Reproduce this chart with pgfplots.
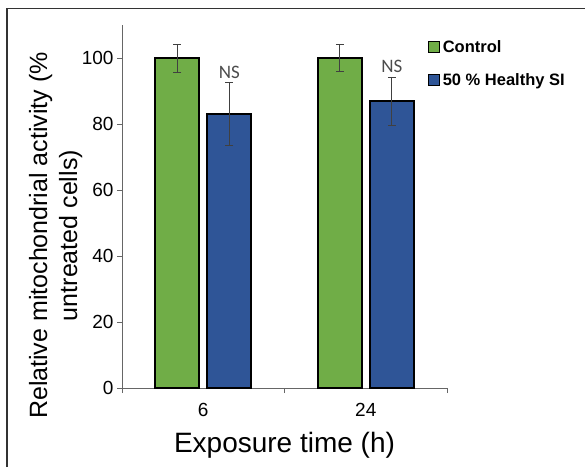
\documentclass[border=0pt]{standalone}
\usepackage{pgfplots}
\pgfplotsset{compat=1.18}
\usepackage{fontspec}
\setmainfont{Liberation Sans}
\newfontfamily\calibri{Carlito}
\definecolor{ctrlgreen}{RGB}{112,173,71}
\definecolor{siblue}{RGB}{47,85,151}
\begin{document}
\begin{tikzpicture}[x=1pt,y=1pt]
\useasboundingbox (0,0) rectangle (585,467);
\begin{axis}[
  at={(122pt,79pt)}, anchor=south west,
  scale only axis, width=325pt, height=363pt,
  ybar=8pt, bar width=44pt,
  xmin=-0.5, xmax=1.5, ymin=0, ymax=110,
  axis x line=bottom, axis y line=left,
  axis line style={-, black!60, line width=0.8pt},
  tick style={black!60, line width=0.8pt},
  tick align=outside, major tick length=5pt,
  xtick={-0.5,0.5,1.5}, xticklabels={},
  extra x ticks={0,1}, extra x tick labels={6,24},
  extra x tick style={major tick length=0pt,
    xticklabel style={yshift=-12pt}},
  ytick={0,20,...,100},
  /pgf/number format/assume math mode=true,
  tick label style={font=\fontsize{19}{22}\selectfont},
  xlabel={Exposure time (h)},
  ylabel={Relative mitochondrial activity (\%\\untreated cells)},
  xlabel style={at={(axis description cs:0.5,-0.158)}, anchor=center,
    font=\fontsize{28}{32}\selectfont},
  ylabel style={at={(axis description cs:-0.204,0.42)}, anchor=center,
    align=center, font=\fontsize{25}{30}\selectfont},
  legend style={at={(axis description cs:0.94,0.96)}, anchor=north west,
    draw=none, fill=none, inner sep=0pt, row sep=17pt, column sep=2pt,
    font=\fontsize{16.5}{19}\selectfont\bfseries,
    nodes={inner sep=1pt}},
  legend cell align=left,
  legend image code/.code={\draw[#1, line width=1.1pt] (0pt,-5.5pt) rectangle (11pt,5.5pt);},
  error bars/y dir=both, error bars/y explicit,
  error bars/error bar style={line width=0.6pt, black!75},
  error bars/error mark options={rotate=90, mark size=4pt, line width=0.6pt, black!75},
]
\addplot[fill=ctrlgreen, draw=black, line width=1.8pt]
  coordinates {(0,100) +- (0,4.2) (1,100) +- (0,4.1)};
\addplot[fill=siblue, draw=black, line width=1.8pt]
  coordinates {(0,83) +- (0,9.6) (1,87) +- (0,7.3)};
\legend{Control, 50 \% Healthy SI}
\node[font=\calibri\fontsize{19}{21}\selectfont, text=black!70]
  at ([xshift=26pt]axis cs:0,95.6) {NS};
\node[font=\calibri\fontsize{19}{21}\selectfont, text=black!70]
  at ([xshift=26pt]axis cs:1,97.6) {NS};
\end{axis}
\draw[line width=1.6pt, black!80] (7,0) -- (7,458.5) -- (585,458.5);
\end{tikzpicture}
\end{document}
